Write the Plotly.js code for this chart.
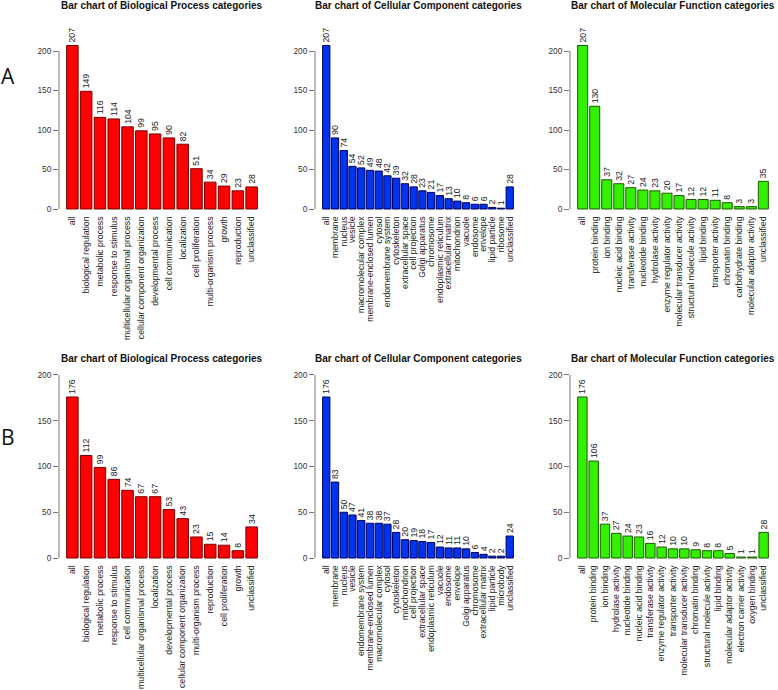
<!DOCTYPE html>
<html>
<head>
<meta charset="utf-8">
<script src="https://cdn.plot.ly/plotly-3.0.1.min.js"></script>
<style>html,body{margin:0;padding:0;background:#fff;}#chart{width:778px;height:690px;}</style>
</head>
<body>
<div id="chart"></div>
<script>
// ---------- DATA ----------
const bpCatsA = ["all","biological regulation","metabolic process","response to stimulus","multicellular organismal process","cellular component organization","developmental process","cell communication","localization","cell proliferation","multi-organism process","growth","reproduction","unclassified"];
const bpValsA = [207,149,116,114,104,99,95,90,82,51,34,29,23,28];

const ccCatsA = ["all","membrane","nucleus","vesicle","macromolecular complex","membrane-enclosed lumen","cytosol","endomembrane system","cytoskeleton","extracellular space","cell projection","Golgi apparatus","chromosome","endoplasmic reticulum","extracellular matrix","mitochondrion","vacuole","endosome","envelope","lipid particle","ribosome","unclassified"];
const ccValsA = [207,90,74,54,52,49,48,42,39,32,28,23,21,17,13,10,8,6,6,2,1,28];

const mfCatsA = ["all","protein binding","ion binding","nucleic acid binding","transferase activity","nucleotide binding","hydrolase activity","enzyme regulator activity","molecular transducer activity","structural molecule activity","lipid binding","transporter activity","chromatin binding","carbohydrate binding","molecular adaptor activity","unclassified"];
const mfValsA = [207,130,37,32,27,24,23,20,17,12,12,11,8,3,3,35];

const bpCatsB = ["all","biological regulation","metabolic process","response to stimulus","cell communication","multicellular organismal process","localization","developmental process","cellular component organization","multi-organism process","reproduction","cell proliferation","growth","unclassified"];
const bpValsB = [176,112,99,86,74,67,67,53,43,23,15,14,8,34];

const ccCatsB = ["all","membrane","nucleus","vesicle","endomembrane system","membrane-enclosed lumen","macromolecular complex","cytosol","cytoskeleton","mitochondrion","cell projection","extracellular space","endoplasmic reticulum","vacuole","endosome","envelope","Golgi apparatus","chromosome","extracellular matrix","lipid particle","microbody","unclassified"];
const ccValsB = [176,83,50,47,41,38,38,37,28,20,19,18,17,12,11,11,10,6,4,2,2,24];

const mfCatsB = ["all","protein binding","ion binding","hydrolase activity","nucleotide binding","nucleic acid binding","transferase activity","enzyme regulator activity","transporter activity","molecular transducer activity","chromatin binding","structural molecule activity","lipid binding","molecular adaptor activity","electron carrier activity","oxygen binding","unclassified"];
const mfValsB = [176,106,37,27,24,23,16,12,10,10,9,8,8,5,1,1,28];

const yTicks = [0,50,100,150,200];
const titles = ["Bar chart of Biological Process categories","Bar chart of Cellular Component categories","Bar chart of Molecular Function categories"];
const rowLabels = ["A","B"];

// ---------- LAYOUT ----------
const W = 778, H = 690;
const FONT = "Liberation Sans, Arial, sans-serif";
const colX = [[59,265],[315,521],[570,776]];           // pixel x extents of plot regions
const rows = [
  {zero:209, scale:158/200, range:[-6,225], titleY:6, labelY:76},
  {zero:558, scale:183/200, range:[-5,205], titleY:358, labelY:437}
];
const fills = ["#FF0000","#0033EE","#33F000"];
const borders = ["#7a0000","#00005a","#1d5a00"];

const panels = [
  [bpCatsA,bpValsA],[ccCatsA,ccValsA],[mfCatsA,mfValsA],
  [bpCatsB,bpValsB],[ccCatsB,ccValsB],[mfCatsB,mfValsB]
];

const data = [];
const layout = {
  width:W, height:H, margin:{l:0,r:0,t:0,b:0},
  paper_bgcolor:"#fff", plot_bgcolor:"rgba(0,0,0,0)",
  showlegend:false, bargap:0.2/1.2,
  font:{family:FONT, color:"#333"},
  annotations:[], shapes:[]
};

panels.forEach((p,i)=>{
  const r = Math.floor(i/3), c = i%3;
  const row = rows[r];
  const n = p[0].length;
  const ax = i+1;
  const xa = "x"+(ax===1?"":ax), ya = "y"+(ax===1?"":ax);
  const xk = "xaxis"+(ax===1?"":ax), yk = "yaxis"+(ax===1?"":ax);
  data.push({
    type:"bar", x:p[0], y:p[1], xaxis:xa, yaxis:ya,
    marker:{color:fills[c], line:{color:borders[c], width:1}},
    text:p[1].map(String), textposition:"outside", textangle:-90,
    constraintext:"none", cliponaxis:false,
    textfont:{family:FONT, size:8.7, color:"#222"},
    hoverinfo:"skip"
  });
  const pad = 0.04*(1.2*n-0.2)/1.2;
  const half = 0.5/1.2;
  const yb = row.zero + (0-row.range[0])*row.scale;
  const yt = row.zero - row.range[1]*row.scale;
  layout[xk] = {
    domain:[colX[c][0]/W, colX[c][1]/W], anchor:ya,
    type:"category", range:[-half-pad, n-1+half+pad],
    tickmode:"array", tickvals:p[0], ticktext:p[0],
    showline:false, showgrid:false, zeroline:false, ticks:"",
    tickangle:-90, tickfont:{family:FONT, size:8.7, color:"#222"},
    automargin:false, fixedrange:true
  };
  layout[yk] = {
    domain:[1-yb/H, 1-yt/H], anchor:xa, range:row.range,
    tickvals:yTicks, ticktext:yTicks.map(String),
    ticks:"outside", ticklen:5, tickcolor:"#777", tickwidth:1,
    showline:false, showgrid:false, zeroline:false,
    tickfont:{family:FONT, size:8.3, color:"#333"},
    automargin:false, fixedrange:true
  };
  layout.shapes.push({type:"line", xref:xa+" domain", yref:ya, x0:0, x1:0, y0:yTicks[0], y1:yTicks[yTicks.length-1],
    line:{color:"#777", width:1}});
  layout.annotations.push({text:"<b>"+titles[c]+"</b>", xref:"paper", yref:"paper",
    x:(colX[c][0]+colX[c][1])/2/W, y:1-row.titleY/H, xanchor:"center", yanchor:"middle",
    showarrow:false, font:{family:FONT, size:10, color:"#111"}});
});
rowLabels.forEach((t,r)=>{
  layout.annotations.push({text:t, xref:"paper", yref:"paper", x:8/W, y:1-rows[r].labelY/H,
    xanchor:"center", yanchor:"middle", showarrow:false,
    font:{family:"Open Sans, Noto Sans, sans-serif", size:21, color:"#111"}});
});

Plotly.newPlot("chart", data, layout, {staticPlot:true, displayModeBar:false});
</script>
</body>
</html>
